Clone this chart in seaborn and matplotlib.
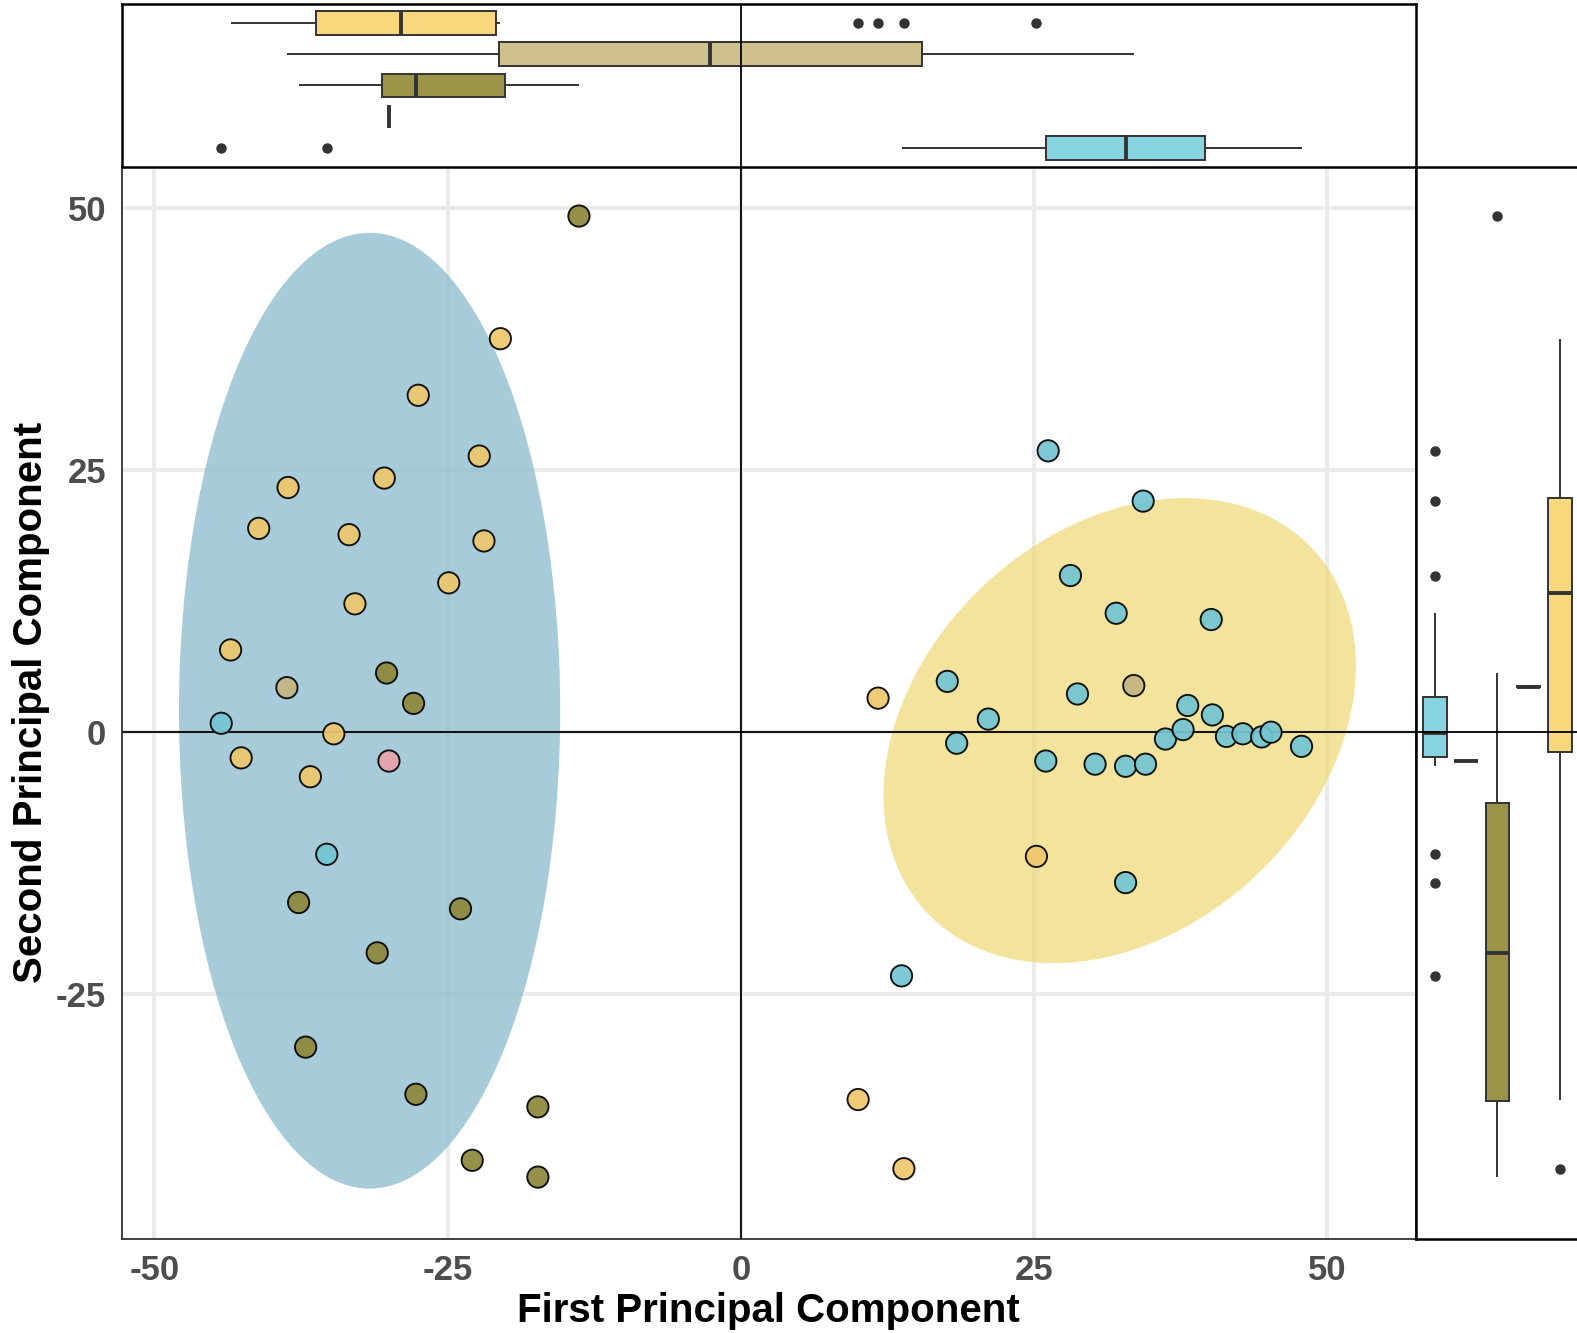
import numpy as np
import pandas as pd
import matplotlib
matplotlib.use("Agg")
import matplotlib.pyplot as plt
from matplotlib.patches import Ellipse
import seaborn as sns

# ---------------- data ----------------
group_order = ["cyan", "pink", "olive", "tan", "yellow"]

yellow_x = [-20.5, -27.5, -22.3, -38.6, -30.4, -41.1, -33.4, -21.9, -24.9, -32.9,
            -43.5, -34.7, -42.6, -36.7, 11.7, 25.2, 10.0, 13.9]
yellow_y = [37.5, 32.1, 26.3, 23.3, 24.2, 19.4, 18.8, 18.2, 14.2, 12.2,
            7.8, -0.2, -2.5, -4.3, 3.2, -11.9, -35.1, -41.7]

tan_x = [-38.7, 33.5]
tan_y = [4.2, 4.4]

pink_x = [-30.0]
pink_y = [-2.8]

olive_x = [-13.8, -30.2, -27.9, -37.7, -23.9, -31.0, -37.1, -27.7, -17.3, -22.9, -17.3]
olive_y = [49.2, 5.6, 2.7, -16.3, -16.9, -21.1, -30.1, -34.6, -35.8, -40.9, -42.5]

cyan_x = [-44.3, -35.3, 26.2, 34.3, 28.1, 32.0, 40.1, 17.6, 28.7, 21.1, 18.4, 26.0,
          30.2, 32.8, 34.5, 38.1, 40.2, 36.2, 37.7, 41.4, 42.8, 44.4, 45.2, 47.8,
          32.8, 13.7]
cyan_y = [0.8, -11.7, 26.8, 22.0, 14.9, 11.3, 10.7, 4.8, 3.6, 1.2, -1.1, -2.8,
          -3.1, -3.3, -3.1, 2.5, 1.6, -0.7, 0.2, -0.45, -0.2, -0.5, -0.05, -1.4,
          -14.4, -23.3]

# cluster ellipses (centre, full width / height, angle in data units)
ell_cx = [-31.65, 32.3]
ell_cy = [2.0, 0.1]
ell_w = [32.5, 48.2]
ell_h = [91.2, 35.6]
ell_angle = [0.0, 54.6]
ell_colors = ["#8ABACB", "#EFDA7B"]

x_ticks = [-50, -25, 0, 25, 50]
y_ticks = [-25, 0, 25, 50]

point_pal = {"yellow": "#EEC76C", "tan": "#C3B580", "olive": "#8C873A",
             "cyan": "#72C5D2", "pink": "#E8A2AB"}
box_pal = {"yellow": "#F9D77D", "tan": "#CFC18D", "olive": "#9C9447",
           "cyan": "#86D4E2", "pink": "#E8A3AC"}

frames = []
for g, xs, ys in [("yellow", yellow_x, yellow_y), ("tan", tan_x, tan_y),
                  ("pink", pink_x, pink_y), ("olive", olive_x, olive_y),
                  ("cyan", cyan_x, cyan_y)]:
    frames.append(pd.DataFrame({"pc1": xs, "pc2": ys, "group": g}))
df = pd.concat(frames, ignore_index=True)

# ---------------- figure ----------------
sns.set_theme(style="white")
plt.rcParams['font.family'] = ['Liberation Sans', 'DejaVu Sans']
plt.rcParams['axes.unicode_minus'] = False

W, H = 1577, 1333
fig = plt.figure(figsize=(W / 100, H / 100), dpi=100)

def rect(l, t, r, b):
    return [l / W, 1 - b / H, (r - l) / W, (b - t) / H]

ax = fig.add_axes(rect(121.5, 166.7, 1416, 1238.5))
axt = fig.add_axes(rect(121.5, 4, 1416, 166.7))
axr = fig.add_axes(rect(1416, 166.7, 1416 + 5.2 * 31.3, 1238.5))

xlim = (-52.8, 57.56)
ylim = (-48.36, 53.91)

# main panel
ax.set_axisbelow(True)
ax.grid(True, color="#EBEBEB", lw=2.9)
for cx, cy, w, h, a, c in zip(ell_cx, ell_cy, ell_w, ell_h, ell_angle, ell_colors):
    ax.add_patch(Ellipse((cx, cy), w, h, angle=a, facecolor=c, edgecolor="none",
                         alpha=0.75, zorder=1))
ax.axhline(0, color="black", lw=1.3, zorder=2)
ax.axvline(0, color="black", lw=1.3, zorder=2)
sns.scatterplot(data=df, x="pc1", y="pc2", hue="group", palette=point_pal,
                s=235, edgecolor="black", linewidth=1.35, alpha=0.92,
                legend=False, ax=ax, zorder=3)
ax.set_xlim(xlim)
ax.set_ylim(ylim)
ax.set_xticks(x_ticks)
ax.set_yticks(y_ticks)
ax.tick_params(length=0, labelsize=25, labelcolor="#4D4D4D", pad=11)
for lab in ax.get_xticklabels() + ax.get_yticklabels():
    lab.set_fontweight("bold")
ax.set_xlabel("First Principal Component", fontsize=29, fontweight="bold",
              color="black", labelpad=4)
ax.set_ylabel("Second Principal Component", fontsize=29, fontweight="bold",
              color="black", labelpad=4)
for sp in ax.spines.values():
    sp.set_color("#333333")
    sp.set_linewidth(1.3)

flier = dict(marker="o", markerfacecolor="#333333", markeredgecolor="#333333",
             markersize=6.5)
med = dict(color="#333333", linewidth=2.8)

# top marginal boxplot
sns.boxplot(data=df, x="pc1", y="group", order=group_order[::-1], hue="group",
            palette=box_pal, width=0.75, linecolor="#333333", linewidth=1.4,
            showcaps=False, flierprops=flier, medianprops=med, saturation=1,
            legend=False, ax=axt)
axt.axvline(0, color="black", lw=1.3, zorder=5)
axt.set_xlim(xlim)
axt.set_ylim(4.6, -0.6)

# right marginal boxplot
sns.boxplot(data=df, x="group", y="pc2", order=group_order, hue="group",
            palette=box_pal, width=0.75, linecolor="#333333", linewidth=1.4,
            showcaps=False, flierprops=flier, medianprops=med, saturation=1,
            legend=False, ax=axr)
axr.axhline(0, color="black", lw=1.3, zorder=5)
axr.set_xlim(-0.6, 4.6)
axr.set_ylim(ylim)

for a in (axt, axr):
    a.set_xticks([])
    a.set_yticks([])
    a.set_xlabel("")
    a.set_ylabel("")
    a.grid(False)
    for sp in a.spines.values():
        sp.set_color("black")
        sp.set_linewidth(1.8)

fig.savefig("out.png", dpi=100)
